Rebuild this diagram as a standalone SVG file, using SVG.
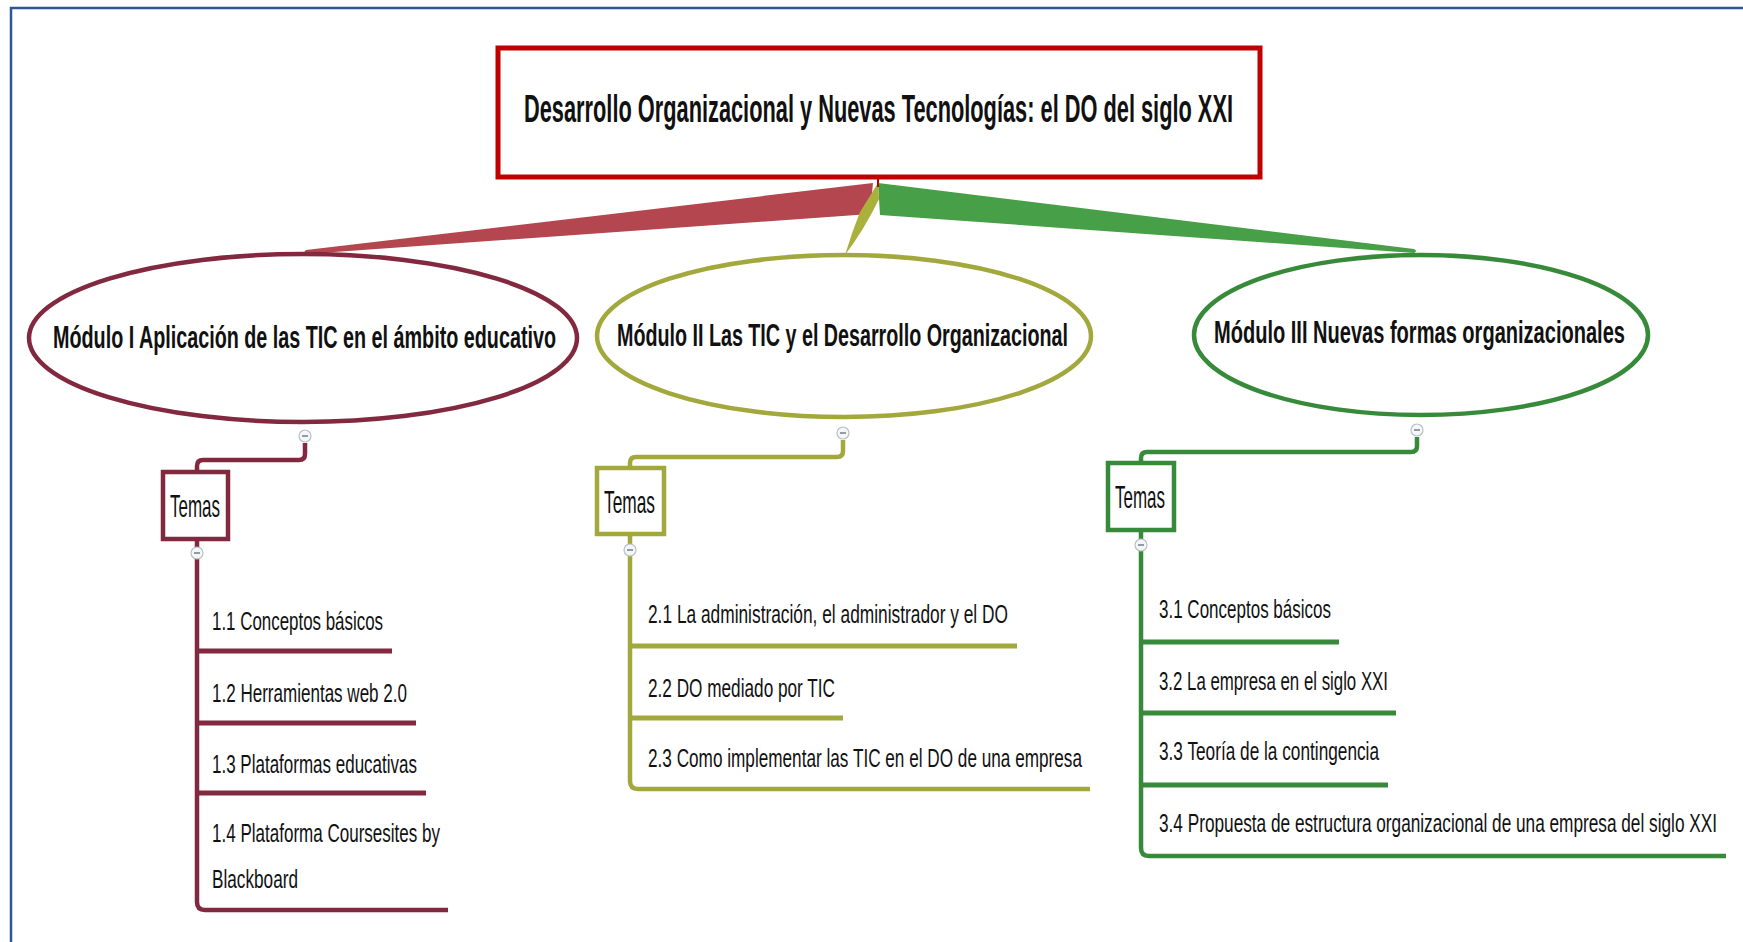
<svg xmlns="http://www.w3.org/2000/svg" width="1743" height="942" viewBox="0 0 1743 942">
<style>
text{font-family:"Liberation Sans",Arial,sans-serif;fill:#111;}
.title{font-size:21.6px;font-weight:bold;}
.mod{font-size:19.8px;font-weight:bold;}
.tem{font-size:16.4px;}
.item{font-size:17px;}
.m1{stroke:#82283f;}
.m2{stroke:#a2a83c;}
.m3{stroke:#378a3a;}
.ell{fill:#fff;stroke-width:4.5;}
.box{fill:#fff;stroke-width:4.5;}
.ln{fill:none;stroke-width:4.5;stroke-linecap:butt;stroke-linejoin:round;}
.ul{fill:none;stroke-width:5;}
.tog{fill:#f4f6f8;stroke:#b8c0c8;stroke-width:1.2;}
.togm{stroke:#6b7480;stroke-width:1.4;}
</style>
<rect x="0" y="0" width="1743" height="942" fill="#fff"/>
<path d="M11 942 V8 H1743" fill="none" stroke="#2f5597" stroke-width="2.5"/>

<g id="connectors">
  <path d="M873 183 L306 250 Q303 252 306 254 L870 214 Z" fill="#b3464e"/>
  <path d="M878 183 L1414 249 Q1418 251 1414 253 L880 215 Z" fill="#47a047"/>
  <path d="M878 183 L860 212 Q852 232 845 255 Q864 230 879 199 Z" fill="#aab03c"/>
  <line x1="878" y1="177" x2="878" y2="187" stroke="#c00000" stroke-width="2"/>
  <path class="ln m1" d="M305 443 V454 Q305 460 299 460 H203 Q197 460 197 466 V472"/>
  <path class="ln m2" d="M843 440 V451 Q843 457 837 457 H636 Q630 457 630 463 V468"/>
  <path class="ln m3" d="M1417 437 V446 Q1417 452 1411 452 H1147 Q1141 452 1141 458 V463"/>
</g>

<g id="title">
  <rect x="498" y="48" width="762" height="129" fill="#fff" stroke="#c00000" stroke-width="5"/>
  <text class="title" x="524" y="69.36" transform="scale(1 1.759)" textLength="709" lengthAdjust="spacingAndGlyphs">Desarrollo Organizacional y Nuevas Tecnologías: el DO del siglo XXI</text>
</g>

<g id="modulo1">
  <ellipse class="ell m1" cx="303" cy="338" rx="274" ry="84"/>
  <text class="mod" x="53" y="215.35" transform="scale(1 1.616)" textLength="503" lengthAdjust="spacingAndGlyphs">Módulo I Aplicación de las TIC en el ámbito educativo</text>
  <circle class="tog" cx="305" cy="436" r="6"/>
  <line class="togm" x1="302" y1="436" x2="308" y2="436"/>
</g>
<g id="modulo2">
  <ellipse class="ell m2" cx="844" cy="336" rx="247" ry="81"/>
  <text class="mod" x="617" y="214.11" transform="scale(1 1.616)" textLength="451" lengthAdjust="spacingAndGlyphs">Módulo II Las TIC y el Desarrollo Organizacional</text>
  <circle class="tog" cx="843" cy="433" r="6"/>
  <line class="togm" x1="840" y1="433" x2="846" y2="433"/>
</g>
<g id="modulo3">
  <ellipse class="ell m3" cx="1421" cy="335" rx="227" ry="80"/>
  <text class="mod" x="1214" y="212.25" transform="scale(1 1.616)" textLength="411" lengthAdjust="spacingAndGlyphs">Módulo III Nuevas formas organizacionales</text>
  <circle class="tog" cx="1417" cy="430" r="6"/>
  <line class="togm" x1="1414" y1="430" x2="1420" y2="430"/>
</g>

<g id="temas1">
  <rect class="box m1" x="163" y="472" width="65" height="67"/>
  <text class="tem" x="170" y="273.54" transform="scale(1 1.89)" textLength="50" lengthAdjust="spacingAndGlyphs">Temas</text>
</g>
<g id="temas2">
  <rect class="box m2" x="597" y="468" width="67" height="66"/>
  <text class="tem" x="604" y="271.43" transform="scale(1 1.89)" textLength="51" lengthAdjust="spacingAndGlyphs">Temas</text>
</g>
<g id="temas3">
  <rect class="box m3" x="1108" y="463" width="66" height="67"/>
  <text class="tem" x="1115" y="268.78" transform="scale(1 1.89)" textLength="50" lengthAdjust="spacingAndGlyphs">Temas</text>
</g>

<g id="temas1-items">
  <path class="ln m1" d="M197 541 V902 Q197 910 205 910 H448"/>
  <circle class="tog" cx="197" cy="553" r="6"/>
  <line class="togm" x1="194" y1="553" x2="200" y2="553"/>
  <line class="ul m1" x1="197" y1="651" x2="392" y2="651"/>
  <line class="ul m1" x1="197" y1="723" x2="416" y2="723"/>
  <line class="ul m1" x1="197" y1="793" x2="426" y2="793"/>
  <text class="item" x="212" y="411.76" transform="scale(1 1.53)" textLength="171" lengthAdjust="spacingAndGlyphs">1.1 Conceptos básicos</text>
  <text class="item" x="212" y="458.82" transform="scale(1 1.53)" textLength="195" lengthAdjust="spacingAndGlyphs">1.2 Herramientas web 2.0</text>
  <text class="item" x="212" y="505.23" transform="scale(1 1.53)" textLength="205" lengthAdjust="spacingAndGlyphs">1.3 Plataformas educativas</text>
  <text class="item" x="212" y="550.33" transform="scale(1 1.53)" textLength="228" lengthAdjust="spacingAndGlyphs">1.4 Plataforma Coursesites by</text>
  <text class="item" x="212" y="580.39" transform="scale(1 1.53)" textLength="86" lengthAdjust="spacingAndGlyphs">Blackboard</text>
</g>

<g id="temas2-items">
  <path class="ln m2" d="M630 536 V781 Q630 789 638 789 H1090"/>
  <circle class="tog" cx="630" cy="550" r="6"/>
  <line class="togm" x1="627" y1="550" x2="633" y2="550"/>
  <line class="ul m2" x1="630" y1="646" x2="1017" y2="646"/>
  <line class="ul m2" x1="630" y1="718" x2="843" y2="718"/>
  <text class="item" x="648" y="407.19" transform="scale(1 1.53)" textLength="360" lengthAdjust="spacingAndGlyphs">2.1 La administración, el administrador y el DO</text>
  <text class="item" x="648" y="455.56" transform="scale(1 1.53)" textLength="187" lengthAdjust="spacingAndGlyphs">2.2 DO mediado por TIC</text>
  <text class="item" x="648" y="501.31" transform="scale(1 1.53)" textLength="434" lengthAdjust="spacingAndGlyphs">2.3 Como implementar las TIC en el DO de una empresa</text>
</g>

<g id="temas3-items">
  <path class="ln m3" d="M1141 532 V848 Q1141 856 1149 856 H1726"/>
  <circle class="tog" cx="1141" cy="545" r="6"/>
  <line class="togm" x1="1138" y1="545" x2="1144" y2="545"/>
  <line class="ul m3" x1="1141" y1="642" x2="1339" y2="642"/>
  <line class="ul m3" x1="1141" y1="713" x2="1396" y2="713"/>
  <line class="ul m3" x1="1141" y1="785" x2="1388" y2="785"/>
  <text class="item" x="1159" y="403.92" transform="scale(1 1.53)" textLength="172" lengthAdjust="spacingAndGlyphs">3.1 Conceptos básicos</text>
  <text class="item" x="1159" y="450.98" transform="scale(1 1.53)" textLength="229" lengthAdjust="spacingAndGlyphs">3.2 La empresa en el siglo XXI</text>
  <text class="item" x="1159" y="496.73" transform="scale(1 1.53)" textLength="220" lengthAdjust="spacingAndGlyphs">3.3 Teoría de la contingencia</text>
  <text class="item" x="1159" y="543.79" transform="scale(1 1.53)" textLength="558" lengthAdjust="spacingAndGlyphs">3.4 Propuesta de estructura organizacional de una empresa del siglo XXI</text>
</g>
</svg>
